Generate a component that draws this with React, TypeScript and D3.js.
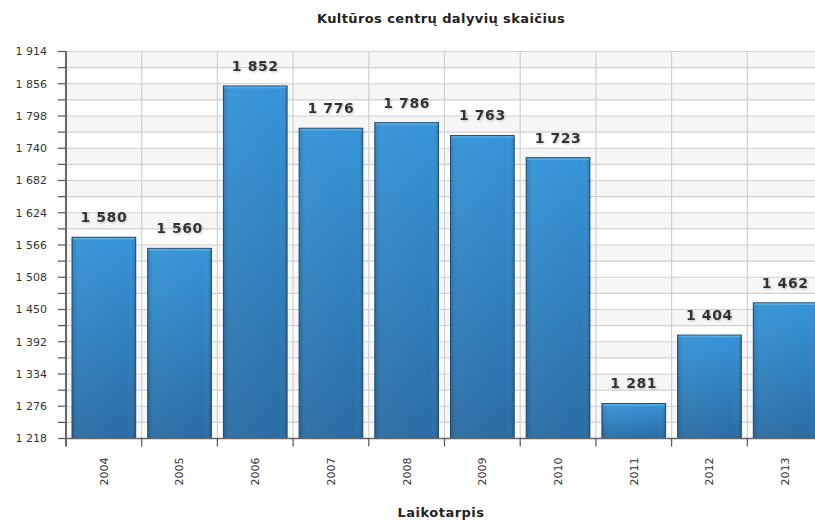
import * as d3 from "d3";
import React, { useEffect, useRef } from "react";

const years = ["2004", "2005", "2006", "2007", "2008", "2009", "2010", "2011", "2012", "2013"];
const participants = [1580, 1560, 1852, 1776, 1786, 1763, 1723, 1281, 1404, 1462];
const yDomain = [1218, 1914];
const yStep = 58;

const App: React.FC = () => {
  const ref = useRef<SVGSVGElement>(null);

  useEffect(() => {
    if (!ref.current) return;
    const svg = d3.select(ref.current);
    svg.selectAll("*").remove();

    const left = 66,
      right = 823, // last band runs past the right edge, as in the original
      top = 51.5,
      bottom = 438.5;
    const font = "Verdana, 'DejaVu Sans', sans-serif";

    const fmt = d3.formatLocale({ decimal: ",", thousands: " ", grouping: [3], currency: ["", ""] }).format(",d");

    const x = d3.scaleBand<string>().domain(years).range([left, right]);
    const y = d3.scaleLinear().domain(yDomain).range([bottom, top]);

    const majorTicks = d3.range(yDomain[0], yDomain[1] + 1, yStep);
    const allTicks = d3.range(yDomain[0], yDomain[1] + 1, yStep / 2);

    const defs = svg.append("defs");
    const grad = defs.append("linearGradient").attr("id", "barGrad").attr("x1", 0).attr("y1", 0).attr("x2", 0).attr("y2", 1);
    grad.append("stop").attr("offset", "0%").attr("stop-color", "#3594d8");
    grad.append("stop").attr("offset", "100%").attr("stop-color", "#2a6ca3");
    const hgrad = defs.append("linearGradient").attr("id", "barShade").attr("x1", 0).attr("y1", 0).attr("x2", 1).attr("y2", 0);
    hgrad.append("stop").attr("offset", "0%").attr("stop-color", "#000").attr("stop-opacity", 0.12);
    hgrad.append("stop").attr("offset", "12%").attr("stop-color", "#fff").attr("stop-opacity", 0.04);
    hgrad.append("stop").attr("offset", "88%").attr("stop-color", "#fff").attr("stop-opacity", 0.0);
    hgrad.append("stop").attr("offset", "100%").attr("stop-color", "#000").attr("stop-opacity", 0.15);

    const shadow = defs
      .append("filter")
      .attr("id", "txtShadow")
      .attr("x", "-20%")
      .attr("y", "-20%")
      .attr("width", "140%")
      .attr("height", "160%");
    shadow
      .append("feDropShadow")
      .attr("dx", 1)
      .attr("dy", 1)
      .attr("stdDeviation", 0.8)
      .attr("flood-color", "#999")
      .attr("flood-opacity", 0.6);

    // alternating bands
    svg
      .append("g")
      .selectAll("rect")
      .data(allTicks.slice(0, -1).filter((_, i) => i % 2 === 1))
      .join("rect")
      .attr("x", left)
      .attr("width", right - left)
      .attr("y", (d) => y(d + yStep / 2))
      .attr("height", (d) => y(d) - y(d + yStep / 2))
      .attr("fill", "#f6f6f6");

    // horizontal grid
    svg
      .append("g")
      .selectAll("line")
      .data(allTicks)
      .join("line")
      .attr("x1", left)
      .attr("x2", right)
      .attr("y1", (d) => y(d))
      .attr("y2", (d) => y(d))
      .attr("stroke", "#d0d0d0")
      .attr("stroke-width", 1.2);

    // vertical grid
    svg
      .append("g")
      .selectAll("line")
      .data(years.slice(1))
      .join("line")
      .attr("x1", (d) => x(d)!)
      .attr("x2", (d) => x(d)!)
      .attr("y1", top)
      .attr("y2", bottom)
      .attr("stroke", "#d0d0d0")
      .attr("stroke-width", 1.2);

    // bars
    const pad = 6;
    const bars = svg.append("g");
    bars
      .selectAll("rect.bar")
      .data(participants)
      .join("rect")
      .attr("class", "bar")
      .attr("x", (_, i) => x(years[i])! + pad)
      .attr("width", x.bandwidth() - 2 * pad)
      .attr("y", (d) => y(d))
      .attr("height", (d) => bottom - y(d))
      .attr("fill", "url(#barGrad)")
      .attr("stroke", "#1f4d78")
      .attr("stroke-width", 1);
    bars
      .selectAll("rect.shade")
      .data(participants)
      .join("rect")
      .attr("class", "shade")
      .attr("x", (_, i) => x(years[i])! + pad)
      .attr("width", x.bandwidth() - 2 * pad)
      .attr("y", (d) => y(d))
      .attr("height", (d) => bottom - y(d))
      .attr("fill", "url(#barShade)");
    bars
      .selectAll("line.hl")
      .data(participants)
      .join("line")
      .attr("class", "hl")
      .attr("x1", (_, i) => x(years[i])! + pad + 1)
      .attr("x2", (_, i) => x(years[i])! + x.bandwidth() - pad - 1)
      .attr("y1", (d) => y(d) + 1.5)
      .attr("y2", (d) => y(d) + 1.5)
      .attr("stroke", "#5aaee6")
      .attr("stroke-width", 1.5);

    // value labels
    svg
      .append("g")
      .selectAll("text")
      .data(participants)
      .join("text")
      .attr("x", (_, i) => x(years[i])! + x.bandwidth() / 2)
      .attr("y", (d) => y(d) - 15)
      .attr("text-anchor", "middle")
      .attr("font-family", font)
      .attr("font-weight", "bold")
      .attr("font-size", 14)
      .attr("letter-spacing", 0.6)
      .attr("fill", "#333")
      .attr("filter", "url(#txtShadow)")
      .text((d) => fmt(d));

    // y axis
    const yAxis = svg.append("g");
    yAxis
      .selectAll("line")
      .data(allTicks)
      .join("line")
      .attr("x1", left - 8)
      .attr("x2", left)
      .attr("y1", (d) => y(d))
      .attr("y2", (d) => y(d))
      .attr("stroke", "#555")
      .attr("stroke-width", 1.2);
    yAxis
      .selectAll("text")
      .data(majorTicks)
      .join("text")
      .attr("x", left - 19)
      .attr("y", (d) => y(d))
      .attr("dy", "0.35em")
      .attr("text-anchor", "end")
      .attr("font-family", font)
      .attr("font-size", 11)
      .attr("fill", "#333")
      .text((d) => fmt(d));
    yAxis
      .append("line")
      .attr("x1", left)
      .attr("x2", left)
      .attr("y1", top)
      .attr("y2", bottom + 8)
      .attr("stroke", "#666")
      .attr("stroke-width", 2);

    // x axis
    const xAxis = svg.append("g");
    xAxis
      .append("line")
      .attr("x1", left)
      .attr("x2", right)
      .attr("y1", bottom)
      .attr("y2", bottom)
      .attr("stroke", "#666")
      .attr("stroke-width", 1.5);
    xAxis
      .selectAll("line.tick")
      .data(years.slice(1))
      .join("line")
      .attr("class", "tick")
      .attr("x1", (d) => x(d)!)
      .attr("x2", (d) => x(d)!)
      .attr("y1", bottom)
      .attr("y2", bottom + 8)
      .attr("stroke", "#555")
      .attr("stroke-width", 1.2);
    xAxis
      .selectAll("text")
      .data(years)
      .join("text")
      .attr("transform", (d) => `translate(${x(d)! + x.bandwidth() / 2},${bottom + 19}) rotate(-90)`)
      .attr("dy", "0.35em")
      .attr("text-anchor", "end")
      .attr("font-family", font)
      .attr("font-size", 11)
      .attr("fill", "#333")
      .text((d) => d);

    // titles
    const mid = (66 + 816) / 2;
    svg
      .append("text")
      .attr("x", mid)
      .attr("y", 23)
      .attr("text-anchor", "middle")
      .attr("font-family", font)
      .attr("font-weight", "bold")
      .attr("font-size", 13)
      .attr("letter-spacing", 0.4)
      .attr("fill", "#222")
      .text("Kultūros centrų dalyvių skaičius");
    svg
      .append("text")
      .attr("x", mid)
      .attr("y", 517)
      .attr("text-anchor", "middle")
      .attr("font-family", font)
      .attr("font-weight", "bold")
      .attr("font-size", 13)
      .attr("letter-spacing", 0.5)
      .attr("fill", "#222")
      .text("Laikotarpis");
  }, []);

  return (
    <svg
      ref={ref}
      width={815}
      height={521}
      style={{ position: "absolute", left: 0, top: 0, background: "#fff" }}
    />
  );
};

export default App;
